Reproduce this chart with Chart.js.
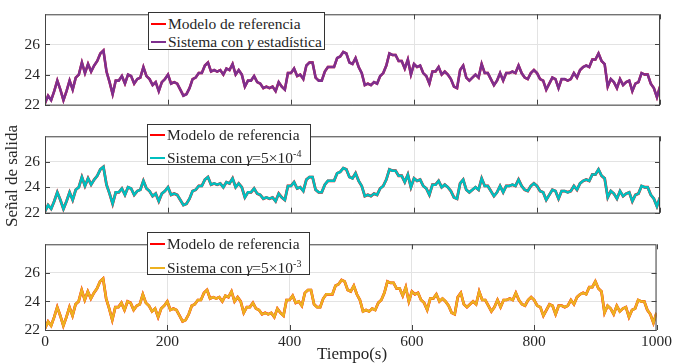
<!DOCTYPE html>
<html>
<head>
<meta charset="utf-8">
<script src="https://cdn.jsdelivr.net/npm/chart.js@4"></script>
<style>
    body { margin: 0; background: #fff; }
    #lienzo { position: relative; width: 675px; height: 363px; overflow: hidden;
        font-family: "Liberation Serif", "Times New Roman", serif; color: #262626; }
    canvas { position: absolute; left: 0; }
    .leyenda { position: absolute; background: #fff; border: 1px solid #333; box-sizing: border-box; z-index: 2; }
    .fila { position: absolute; left: 0; height: 18px; line-height: 18px; font-size: 15.5px;
        white-space: nowrap; padding-left: 19px; }
    .fila .linea { position: absolute; left: 2px; top: 8px; width: 15px; height: 2px; }
    .titulo { position: absolute; font-size: 17px; white-space: nowrap; }
    sup { font-size: 10px; vertical-align: 6px; line-height: 0; }
</style>
</head>
<body>
<div id="lienzo">
    <canvas id="panel1" width="675" height="119" style="top:0px"></canvas>
    <canvas id="panel2" width="675" height="105" style="top:122px"></canvas>
    <canvas id="panel3" width="675" height="133" style="top:230px"></canvas>

    <div class="leyenda" style="left:148px; top:12px; width:177px; height:38px">
        <div class="fila" style="top:2px"><span class="linea" style="background:#ff0000"></span>Modelo de referencia</div>
        <div class="fila" style="top:20px"><span class="linea" style="background:#7e2f8e"></span>Sistema con <i>γ</i> estadística</div>
    </div>
    <div class="leyenda" style="left:147px; top:124px; width:164px; height:41px">
        <div class="fila" style="top:1px"><span class="linea" style="background:#ff0000"></span>Modelo de referencia</div>
        <div class="fila" style="top:24px"><span class="linea" style="background:#00bfbf"></span>Sistema con <i>γ</i>=5×10<sup>-4</sup></div>
    </div>
    <div class="leyenda" style="left:147px; top:232px; width:163px; height:43px">
        <div class="fila" style="top:2px"><span class="linea" style="background:#ff0000"></span>Modelo de referencia</div>
        <div class="fila" style="top:26px"><span class="linea" style="background:#edb120"></span>Sistema con <i>γ</i>=5×10<sup>-3</sup></div>
    </div>

    <div class="titulo" style="left:12px; top:176px; transform: translate(-50%, -50%) rotate(-90deg)">Señal de salida</div>
    <div class="titulo" style="left:352px; top:354px; transform: translate(-50%, -50%)">Tiempo(s)</div>
</div>

<script>
// Sampling step of the series (s)
const paso = 5;

// Reference model output, every 5 s (0..1000 s)
const referencia = [
    22.1, 22.6, 22.3, 22.9, 23.6, 23.0, 22.3, 22.9, 23.6, 23.0,
    23.8, 24.0, 24.8, 24.1, 24.7, 24.2, 24.6, 24.9, 25.4, 25.6,
    24.2, 23.5, 22.7, 23.6, 23.6, 23.9, 23.4, 24.0, 23.9, 23.4,
    23.7, 23.8, 24.5, 23.9, 23.7, 23.3, 23.5, 22.9, 23.5, 23.7,
    24.0, 23.4, 23.5, 23.4, 23.0, 22.6, 22.7, 23.1, 23.7, 23.8,
    24.1, 24.1, 24.6, 24.8, 24.2, 24.3, 24.2, 24.3, 24.0, 24.4,
    24.3, 24.7, 24.0, 24.3, 24.0, 23.2, 23.6, 23.6, 23.9, 23.5,
    23.4, 23.1, 23.2, 23.1, 23.2, 22.9, 23.5, 23.2, 23.0, 24.1,
    24.1, 24.4, 23.9, 24.0, 23.7, 24.6, 24.8, 24.8, 23.8, 23.6,
    23.6, 24.2, 24.5, 24.5, 24.5, 25.1, 25.2, 25.5, 25.4, 24.8,
    24.7, 25.1, 24.5, 24.1, 23.3, 23.4, 23.3, 23.5, 23.4, 23.9,
    24.1, 24.6, 25.4, 25.3, 25.3, 24.9, 24.9, 24.4, 25.0, 24.0,
    24.7, 24.5, 24.6, 24.1, 23.9, 23.4, 24.2, 24.2, 24.5, 24.0,
    24.2, 24.0, 23.7, 23.2, 23.1, 24.3, 24.6, 23.8, 23.6, 23.8,
    24.0, 23.8, 24.7, 24.1, 24.1, 23.7, 23.3, 23.6, 24.1, 23.6,
    24.1, 24.1, 24.2, 24.1, 24.6, 24.1, 23.8, 23.7, 24.1, 24.3,
    24.1, 23.7, 23.6, 23.0, 23.4, 23.8, 23.7, 23.1, 23.7, 23.7,
    23.6, 23.7, 24.1, 23.8, 24.3, 24.5, 24.6, 24.5, 25.0, 25.0,
    25.4, 24.9, 24.7, 23.2, 23.7, 23.5, 23.1, 23.7, 23.3, 23.5,
    23.6, 22.9, 23.4, 23.5, 24.1, 24.0, 24.0, 23.4, 23.1, 22.5,
    23.2
];

// The three systems follow the reference almost exactly in the picture
const sistemaEstadistico = referencia;
const sistemaGamma4 = referencia;
const sistemaGamma3 = referencia;

const xTicks = [0, 200, 400, 600, 800, 1000];
const yTicks = [22, 24, 26];

const fuente = '"Liberation Serif", "Times New Roman", serif';
const colorTexto = '#262626';

function puntos(serie) {
    return serie.map((v, i) => ({ x: i * paso, y: v }));
}

// Box around the axes plus inward tick marks, MATLAB style
const marcoPlugin = {
    id: 'marco',
    afterDraw(chart) {
        const { ctx, chartArea: a, scales: { x, y } } = chart;
        ctx.save();
        ctx.strokeStyle = '#444';
        ctx.lineWidth = 1;
        ctx.strokeRect(a.left + 0.5, a.top + 0.5, a.right - a.left - 1, a.bottom - a.top);
        ctx.beginPath();
        xTicks.forEach(t => {
            const px = Math.round(x.getPixelForValue(t)) + 0.5;
            ctx.moveTo(px, a.bottom); ctx.lineTo(px, a.bottom - 5);
            ctx.moveTo(px, a.top); ctx.lineTo(px, a.top + 5);
        });
        yTicks.forEach(t => {
            const py = Math.round(y.getPixelForValue(t)) + 0.5;
            ctx.moveTo(a.left, py); ctx.lineTo(a.left + 5, py);
            ctx.moveTo(a.right, py); ctx.lineTo(a.right - 5, py);
        });
        ctx.stroke();
        ctx.restore();
    }
};

function crearPanel(id, serie, color, anchoRef, anchoSis, padTop, altoX, conEtiquetasX) {
    return new Chart(document.getElementById(id), {
        type: 'line',
        data: {
            datasets: [
                {
                    label: 'Sistema',
                    data: puntos(serie),
                    borderColor: color,
                    borderWidth: anchoSis,
                    borderJoinStyle: 'miter',
                    pointRadius: 0,
                    tension: 0
                },
                {
                    label: 'Modelo de referencia',
                    data: puntos(referencia),
                    borderColor: '#ff0000',
                    borderWidth: anchoRef,
                    borderJoinStyle: 'miter',
                    pointRadius: 0,
                    tension: 0
                }
            ]
        },
        options: {
            responsive: false,
            animation: false,
            devicePixelRatio: 1,
            layout: { padding: { top: padTop, right: 15, bottom: 0, left: 0 } },
            plugins: { legend: { display: false }, tooltip: { enabled: false } },
            scales: {
                x: {
                    type: 'linear',
                    min: 0,
                    max: 1000,
                    afterBuildTicks: s => { s.ticks = xTicks.map(v => ({ value: v })); },
                    afterFit: s => { s.height = altoX; },
                    grid: { color: '#e3e3e3', drawTicks: false },
                    border: { display: false },
                    ticks: {
                        display: conEtiquetasX,
                        padding: 3,
                        color: colorTexto,
                        font: { family: fuente, size: 15.5 },
                        maxRotation: 0,
                        callback: v => String(v)
                    }
                },
                y: {
                    min: 22,
                    max: 28,
                    afterBuildTicks: s => { s.ticks = [22, 24, 26, 28].map(v => ({ value: v })); },
                    afterFit: s => { s.width = 45; },
                    grid: { color: '#e3e3e3', drawTicks: false },
                    border: { display: false },
                    ticks: {
                        padding: 5,
                        color: colorTexto,
                        font: { family: fuente, size: 15.5 },
                        callback: v => (v === 28 ? '' : String(v))
                    }
                }
            }
        },
        plugins: [marcoPlugin]
    });
}

crearPanel('panel1', sistemaEstadistico, '#7e2f8e', 2.4, 2.6, 12, 1, false);
crearPanel('panel2', sistemaGamma4, '#00bfbf', 2.8, 2.5, 2, 1, false);
crearPanel('panel3', sistemaGamma3, '#edb120', 2.7, 2.5, 2, 33, true);
</script>
</body>
</html>
